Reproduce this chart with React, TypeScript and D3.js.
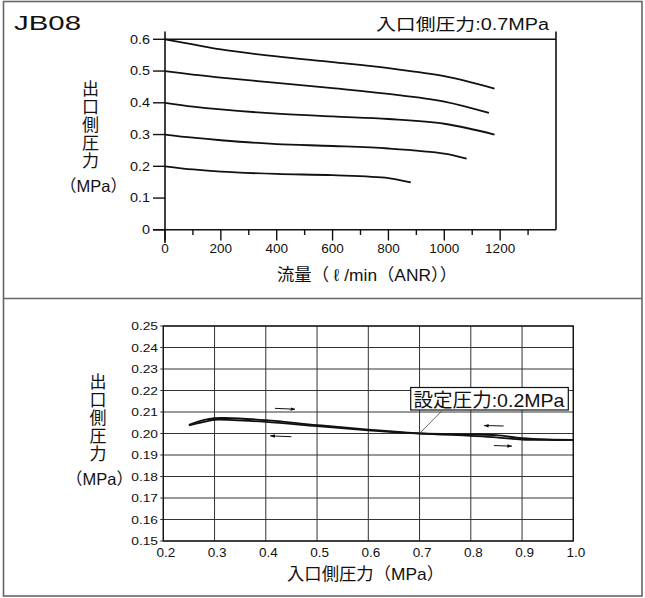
import React from "react";
import * as d3 from "d3";

// ---------- Top chart data: flow (l/min ANR) vs outlet pressure (MPa) ----------
const flowTicks = [0, 200, 400, 600, 800, 1000, 1200];
const flowMinorTicks = [100, 300, 500, 700, 900, 1100, 1300];
const pressTicks = [0, 0.1, 0.2, 0.3, 0.4, 0.5, 0.6];
const pressTickLabels = ["0", "0.1", "0.2", "0.3", "0.4", "0.5", "0.6"];

const curve06: [number, number][] = [[0, 0.6], [100, 0.584], [200, 0.568], [400, 0.546], [600, 0.528], [800, 0.509], [1000, 0.484], [1180, 0.445]];
const curve05: [number, number][] = [[0, 0.5], [100, 0.489], [200, 0.479], [400, 0.463], [600, 0.446], [800, 0.428], [1000, 0.404], [1160, 0.368]];
const curve04: [number, number][] = [[0, 0.4], [100, 0.388], [200, 0.379], [400, 0.366], [600, 0.357], [800, 0.349], [1000, 0.334], [1180, 0.3]];
const curve03: [number, number][] = [[0, 0.3], [100, 0.29], [200, 0.282], [400, 0.27], [600, 0.264], [800, 0.256], [1000, 0.24], [1080, 0.224]];
const curve02: [number, number][] = [[0, 0.2], [100, 0.19], [200, 0.183], [400, 0.176], [600, 0.172], [800, 0.163], [880, 0.149]];
const topCurves = [curve06, curve05, curve04, curve03, curve02];

// ---------- Bottom chart data: inlet pressure vs outlet pressure ----------
const inletTicks = [0.2, 0.3, 0.4, 0.5, 0.6, 0.7, 0.8, 0.9, 1.0];
const inletTickLabels = ["0.2", "0.3", "0.4", "0.5", "0.6", "0.7", "0.8", "0.9", "1.0"];
const outletTicks = [0.15, 0.16, 0.17, 0.18, 0.19, 0.2, 0.21, 0.22, 0.23, 0.24, 0.25];
const outletTickLabels = ["0.15", "0.16", "0.17", "0.18", "0.19", "0.20", "0.21", "0.22", "0.23", "0.24", "0.25"];

const increasing: [number, number][] = [[0.25, 0.204], [0.28, 0.2063], [0.3, 0.2071], [0.32, 0.2072], [0.4, 0.2062], [0.5, 0.2039], [0.6, 0.2018], [0.7, 0.2001], [0.8, 0.1989], [0.85, 0.1982], [0.9, 0.1972], [0.95, 0.197], [1.0, 0.197]];
const decreasing: [number, number][] = [[0.25, 0.2038], [0.29, 0.206], [0.3, 0.2064], [0.4, 0.2054], [0.5, 0.2034], [0.6, 0.2015], [0.7, 0.2], [0.8, 0.1996], [0.85, 0.1992], [0.9, 0.1978], [0.95, 0.1972], [1.0, 0.197]];

// direction arrows [x1, y1, x2, y2] in data units
const arrows: [number, number, number, number][] = [
  [0.418, 0.2117, 0.457, 0.2113],
  [0.45, 0.1985, 0.409, 0.1989],
  [0.864, 0.2035, 0.826, 0.2037],
  [0.845, 0.1944, 0.88, 0.1941],
];

const FONT = "'Liberation Sans', Arial, 'Noto Sans CJK JP', sans-serif";

const yTitleChars = ["出", "口", "側", "圧", "力"];

export default function App() {
  // top scales
  const xT = d3.scaleLinear().domain([0, 1400]).range([165, 556]);
  const yT = d3.scaleLinear().domain([0, 0.6]).range([229.8, 39.3]);
  const lineT = d3
    .line<[number, number]>()
    .x((d) => xT(d[0]))
    .y((d) => yT(d[1]))
    .curve(d3.curveCatmullRom.alpha(0.5));

  // bottom scales
  const xB = d3.scaleLinear().domain([0.2, 1.0]).range([163.3, 573.3]);
  const yB = d3.scaleLinear().domain([0.15, 0.25]).range([541, 326]);
  const lineB = d3
    .line<[number, number]>()
    .x((d) => xB(d[0]))
    .y((d) => yB(d[1]))
    .curve(d3.curveCatmullRom.alpha(0.5));

  return (
    <svg
      width={645}
      height={598}
      style={{ position: "absolute", left: 0, top: 0, background: "#fff" }}
      fontFamily={FONT}
    >
      <defs>
        <marker id="ah" viewBox="0 0 10 10" refX="9" refY="5" markerWidth="5" markerHeight="5" orient="auto">
          <path d="M0,1.5 L10,5 L0,8.5 Z" fill="#111" />
        </marker>
      </defs>
      <rect x={0} y={0} width={645} height={598} fill="#fff" />
      {/* outer frame */}
      <rect x={3.5} y={1.5} width={638.5} height={594.5} fill="none" stroke="#666" strokeWidth={1.6} />
      <line x1={3.5} x2={642} y1={298.5} y2={298.5} stroke="#666" strokeWidth={1.6} />

      {/* ================= TOP CHART ================= */}
      <text x={14} y={30} fontSize={21} textLength={67} lengthAdjust="spacingAndGlyphs" fill="#111">
        JB08
      </text>
      <text x={376} y={29.5} fontSize={16} textLength={173} lengthAdjust="spacingAndGlyphs" fill="#111">
        入口側圧力:0.7MPa
      </text>

      {/* frame lines */}
      <line x1={xT(0)} x2={xT(0)} y1={31.5} y2={243} stroke="#111" strokeWidth={1.6} />
      <line x1={153} x2={xT(1400)} y1={yT(0)} y2={yT(0)} stroke="#111" strokeWidth={1.6} />
      <line x1={xT(0)} x2={xT(1400)} y1={yT(0.6)} y2={yT(0.6)} stroke="#111" strokeWidth={1.4} />
      <line x1={xT(1400)} x2={xT(1400)} y1={31.5} y2={yT(0)} stroke="#111" strokeWidth={1.6} />

      {/* y ticks */}
      {pressTicks.map((t, i) => (
        <g key={"yt" + i}>
          <line x1={153} x2={xT(0)} y1={yT(t)} y2={yT(t)} stroke="#111" strokeWidth={1.4} />
          <text
            transform={`translate(150,${yT(t) + 4.2}) scale(1.2,1)`}
            fontSize={12}
            textAnchor="end"
            fill="#111"
          >
            {pressTickLabels[i]}
          </text>
        </g>
      ))}
      {/* x ticks */}
      {flowTicks.map((t) => (
        <g key={"xt" + t}>
          <line x1={xT(t)} x2={xT(t)} y1={yT(0)} y2={240.5} stroke="#111" strokeWidth={1.4} />
          <text x={xT(t)} y={252.5} fontSize={13.5} textAnchor="middle" fill="#111">
            {t}
          </text>
        </g>
      ))}
      {flowMinorTicks.map((t) => (
        <line key={"xm" + t} x1={xT(t)} x2={xT(t)} y1={yT(0)} y2={235} stroke="#111" strokeWidth={1.4} />
      ))}

      {/* curves */}
      {topCurves.map((c, i) => (
        <path key={"c" + i} d={lineT(c) || ""} fill="none" stroke="#111" strokeWidth={1.8} />
      ))}

      {/* axis titles */}
      {yTitleChars.map((ch, i) => (
        <text key={"tt" + i} x={90.5} y={94.5 + i * 18.2} fontSize={17} textAnchor="middle" fill="#111">
          {ch}
        </text>
      ))}
      <text x={93.5} y={192} fontSize={16.5} textAnchor="middle" fill="#111">
        （MPa）
      </text>
      <text x={277} y={281} fontSize={17} textLength={180} lengthAdjust="spacingAndGlyphs" fill="#111">
        流量（ ℓ /min（ANR））
      </text>

      {/* ================= BOTTOM CHART ================= */}
      {/* grid */}
      {inletTicks.map((t) => (
        <line key={"gv" + t} x1={xB(t)} x2={xB(t)} y1={yB(0.25)} y2={yB(0.15)} stroke="#333" strokeWidth={1} />
      ))}
      {outletTicks.map((t) => (
        <line key={"gh" + t} x1={xB(0.2) - 3} x2={xB(1.0)} y1={yB(t)} y2={yB(t)} stroke="#333" strokeWidth={1} />
      ))}
      <rect
        x={xB(0.2)}
        y={yB(0.25)}
        width={xB(1.0) - xB(0.2)}
        height={yB(0.15) - yB(0.25)}
        fill="none"
        stroke="#111"
        strokeWidth={1.3}
      />
      {outletTicks.map((t, i) => (
        <text
          key={"yl" + i}
          transform={`translate(158,${yB(t) + 4}) scale(1.25,1)`}
          fontSize={11}
          textAnchor="end"
          fill="#111"
        >
          {outletTickLabels[i]}
        </text>
      ))}
      {inletTicks.map((t, i) => (
        <text key={"xl" + i} x={xB(t) + 2.5} y={556.5} fontSize={13.5} textAnchor="middle" fill="#111">
          {inletTickLabels[i]}
        </text>
      ))}

      {/* data lines */}
      <path d={lineB(increasing) || ""} fill="none" stroke="#111" strokeWidth={1.8} />
      <path d={lineB(decreasing) || ""} fill="none" stroke="#111" strokeWidth={1.8} />

      {/* arrows */}
      {arrows.map((a, i) => (
        <line
          key={"ar" + i}
          x1={xB(a[0])}
          y1={yB(a[1])}
          x2={xB(a[2])}
          y2={yB(a[3])}
          stroke="#111"
          strokeWidth={1}
          markerEnd="url(#ah)"
        />
      ))}

      {/* annotation */}
      <line x1={441.7} y1={411} x2={xB(0.7)} y2={yB(0.2)} stroke="#444" strokeWidth={0.8} />
      <rect x={410.7} y={387.5} width={157.6} height={22.5} fill="#fff" stroke="#111" strokeWidth={1.2} />
      <text x={413.5} y={406.5} fontSize={19} textLength={151} lengthAdjust="spacingAndGlyphs" fill="#111">
        設定圧力:0.2MPa
      </text>

      {/* axis titles */}
      {yTitleChars.map((ch, i) => (
        <text key={"bt" + i} x={98} y={388 + i * 18.1} fontSize={17} textAnchor="middle" fill="#111">
          {ch}
        </text>
      ))}
      <text x={99.5} y={484.5} fontSize={16.5} textAnchor="middle" fill="#111">
        （MPa）
      </text>
      <text x={287} y={580} fontSize={17} textLength={157} lengthAdjust="spacingAndGlyphs" fill="#111">
        入口側圧力（MPa）
      </text>
    </svg>
  );
}
